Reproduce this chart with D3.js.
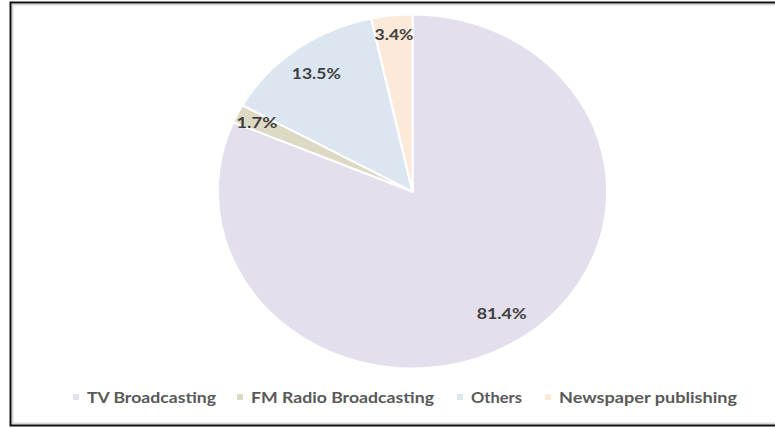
<!DOCTYPE html>
<html>
<head>
<meta charset="utf-8">
<script src="https://cdn.jsdelivr.net/npm/d3@7"></script>
<style>
  html, body { margin: 0; padding: 0; background: #fff; }
  svg { display: block; }
</style>
</head>
<body>
<svg id="chart" width="775" height="428"></svg>
<script>
// Revenue share by segment
const categories = ["TV Broadcasting", "FM Radio Broadcasting", "Others", "Newspaper publishing"];
const shares = [81.4, 1.7, 13.5, 3.4];
const labels = ["81.4%", "1.7%", "13.5%", "3.4%"];
const colors = ["#E4DFEC", "#DDD9C4", "#DCE6F1", "#FDE9D9"];

const W = 775, H = 428;
const svg = d3.select("#chart");

// Frame
svg.append("rect")
  .attr("x", 12.5).attr("y", 4.5)
  .attr("width", W).attr("height", 419)
  .attr("fill", "none").attr("stroke", "#d9d9d9").attr("stroke-width", 2);
svg.append("rect")
  .attr("x", 10.5).attr("y", 2.5)
  .attr("width", W + 10).attr("height", 423)
  .attr("fill", "none").attr("stroke", "#111").attr("stroke-width", 2);

// Pie, slightly wider than tall
const cx = 412.5, cy = 191.5, R = 177, sx = 1.1;
const pie = d3.pie().sort(null).value(d => d)(shares);
const arc = d3.arc().innerRadius(0).outerRadius(R);

const g = svg.append("g").attr("transform", `translate(${cx},${cy})`);
g.append("g").attr("transform", `scale(${sx},1)`)
  .selectAll("path").data(pie).join("path")
  .attr("d", arc)
  .attr("fill", (d, i) => colors[i])
  .attr("stroke", "#fff")
  .attr("stroke-width", 2)
  .attr("stroke-linejoin", "round");

// Value labels
const labelW = { "81.4%": 50, "1.7%": 41, "13.5%": 49, "3.4%": 39 };
g.selectAll("text.val").data(pie).join("text")
  .attr("class", "val")
  .each(function(d, i) {
    const rr = R * (d.value < 5 ? 0.89 : 0.83);
    const a = (d.startAngle + d.endAngle) / 2;
    d3.select(this)
      .attr("x", Math.sin(a) * rr * sx)
      .attr("y", -Math.cos(a) * rr)
      .attr("textLength", labelW[labels[i]])
      .attr("lengthAdjust", "spacingAndGlyphs");
  })
  .attr("text-anchor", "middle")
  .attr("dy", "0.36em")
  .attr("font-family", "Lato, 'Open Sans', sans-serif")
  .attr("font-weight", 700)
  .attr("font-size", 15)
  .attr("fill", "#404040")
  .text((d, i) => labels[i]);

// Legend
const legendX = [73, 237, 457, 545];
const legendTextW = [129, 183, 51, 178];
const leg = svg.append("g").selectAll("g").data(categories).join("g")
  .attr("transform", (d, i) => `translate(${legendX[i]},397)`);
leg.append("rect")
  .attr("x", 0).attr("y", -3).attr("width", 6).attr("height", 6)
  .attr("fill", (d, i) => colors[i]);
leg.append("text")
  .attr("x", 14).attr("dy", "0.36em")
  .attr("textLength", (d, i) => legendTextW[i])
  .attr("lengthAdjust", "spacingAndGlyphs")
  .attr("font-family", "Lato, 'Open Sans', sans-serif")
  .attr("font-weight", 700)
  .attr("font-size", 16)
  .attr("fill", "#595959")
  .text(d => d);
</script>
</body>
</html>
